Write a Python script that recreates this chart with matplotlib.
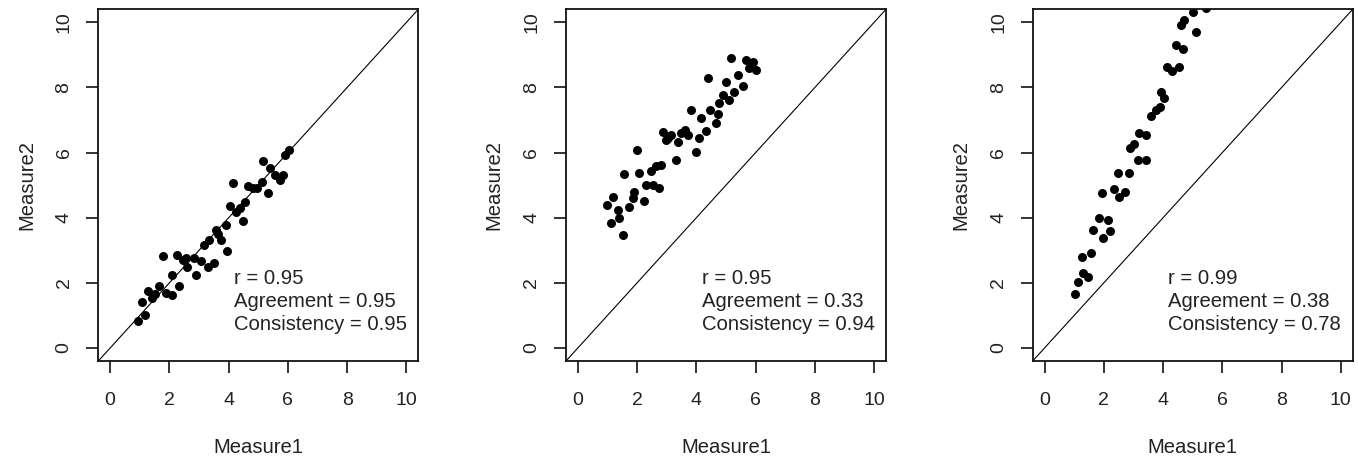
import matplotlib
matplotlib.use("Agg")
import matplotlib.pyplot as plt

plt.rcParams['font.family'] = ['Liberation Sans', 'DejaVu Sans']

# Panel 1 data
x1 = [0.94, 1.19, 1.06, 1.28, 1.42, 1.65, 1.88, 2.10, 1.78, 2.10, 2.33, 2.27, 2.56, 2.61,
      2.90, 2.84, 3.07, 3.30, 3.52, 3.18, 3.35, 3.58, 3.75, 3.92, 3.94, 4.03, 4.15, 4.26,
      4.48, 4.55, 4.38, 4.66, 4.83, 4.94, 5.11, 5.17, 5.34, 5.40, 5.57, 5.74, 5.85, 5.91,
      6.02, 1.50, 2.45, 3.65]
y1 = [0.82, 1.02, 1.40, 1.76, 1.53, 1.89, 1.69, 1.64, 2.81, 2.25, 1.89, 2.86, 2.76, 2.50,
      2.25, 2.76, 2.66, 2.50, 2.61, 3.17, 3.32, 3.63, 3.32, 3.78, 2.97, 4.35, 5.06, 4.19,
      3.89, 4.47, 4.29, 4.96, 4.91, 4.91, 5.11, 5.73, 4.76, 5.52, 5.32, 5.16, 5.32, 5.93,
      6.08, 1.65, 2.70, 3.50]

# Panel 2 data
x2 = [0.98, 1.18, 1.35, 1.12, 1.40, 1.52, 1.57, 1.72, 1.85, 1.91, 2.00, 2.08, 2.22, 2.30,
      2.47, 2.53, 2.64, 2.75, 2.81, 2.89, 2.96, 3.15, 3.30, 3.37, 3.48, 3.60, 3.71, 3.82,
      3.99, 4.10, 4.16, 4.33, 4.38, 4.46, 4.66, 4.78, 4.89, 5.00, 5.11, 5.17, 5.28, 5.39,
      5.56, 5.67, 5.78, 5.90, 6.01, 3.05, 4.72]
y2 = [4.38, 4.65, 4.24, 3.85, 3.99, 3.46, 5.34, 4.33, 4.60, 4.78, 6.08, 5.37, 4.50, 5.01,
      5.42, 5.01, 5.60, 4.91, 5.62, 6.62, 6.39, 6.54, 5.78, 6.34, 6.60, 6.70, 6.54, 7.31,
      6.03, 6.44, 7.06, 6.65, 8.30, 7.31, 6.90, 7.52, 7.77, 8.18, 7.62, 8.90, 7.87, 8.38,
      8.03, 8.84, 8.59, 8.79, 8.54, 6.45, 7.20]

# Panel 3 data
x3 = [1.04, 1.12, 1.29, 1.46, 1.27, 1.57, 1.63, 1.83, 1.97, 2.13, 2.21, 1.94, 2.33, 2.51,
      2.70, 2.47, 2.84, 2.87, 3.03, 3.20, 3.43, 3.15, 3.43, 3.60, 3.76, 3.88, 4.04, 3.93,
      4.12, 4.30, 4.55, 4.42, 4.66, 4.61, 4.72, 5.11, 5.00, 5.45]
y3 = [1.66, 2.04, 2.30, 2.18, 2.79, 2.91, 3.63, 3.99, 3.37, 3.92, 3.58, 4.75, 4.88, 4.65,
      4.78, 5.37, 5.37, 6.13, 6.27, 6.60, 6.54, 5.78, 5.78, 7.11, 7.31, 7.41, 7.67, 7.87,
      8.64, 8.52, 8.64, 9.30, 9.17, 9.92, 10.07, 9.69, 10.33, 10.43]

xs = [x1, x2, x3]
ys = [y1, y2, y3]
r_vals = ["0.95", "0.95", "0.99"]
agree_vals = ["0.95", "0.33", "0.38"]
cons_vals = ["0.95", "0.94", "0.78"]
ticks = [0, 2, 4, 6, 8, 10]

W, H = 1358, 459
fig = plt.figure(figsize=(W / 100, H / 100), dpi=100)
lefts = [98.3, 566, 1032.7]
width = 320
top_px, bot_px = 9.3, 361

fs = 14
tfs = 14.6
for i in range(3):
    ax = fig.add_axes([lefts[i] / W, (H - bot_px) / H, width / W, (bot_px - top_px) / H])
    ax.set_xlim(-0.4, 10.4)
    ax.set_ylim(-0.4, 10.4)
    ax.plot([-0.4, 10.4], [-0.4, 10.4], color='black', lw=0.8, zorder=1)
    ax.scatter(xs[i], ys[i], s=42, color='black', zorder=2, linewidths=0)
    ax.set_xticks(ticks)
    ax.set_yticks(ticks)
    ax.set_xticklabels([str(t) for t in ticks], fontsize=fs, color='#222222')
    ax.set_yticklabels([str(t) for t in ticks], fontsize=fs, color='#222222', rotation=90, va='center')
    ax.tick_params(axis='x', length=8.5, width=1.2, pad=14, color='#111111')
    ax.tick_params(axis='y', length=8.5, width=1.2, pad=10, color='#111111')
    for sp in ax.spines.values():
        sp.set_linewidth(1.3)
        sp.set_color('#111111')
    ax.set_xlabel("Measure1", fontsize=tfs, labelpad=21, color='#222222')
    ax.set_ylabel("Measure2", fontsize=tfs, labelpad=14, color='#222222')
    ax.text(4.18, 2.12, "r = " + r_vals[i], fontsize=tfs, ha='left', va='center', color='#222222')
    ax.text(4.18, 1.42, "Agreement = " + agree_vals[i], fontsize=tfs, ha='left', va='center', color='#222222')
    ax.text(4.18, 0.72, "Consistency = " + cons_vals[i], fontsize=tfs, ha='left', va='center', color='#222222')

fig.savefig("out.png", dpi=100)
